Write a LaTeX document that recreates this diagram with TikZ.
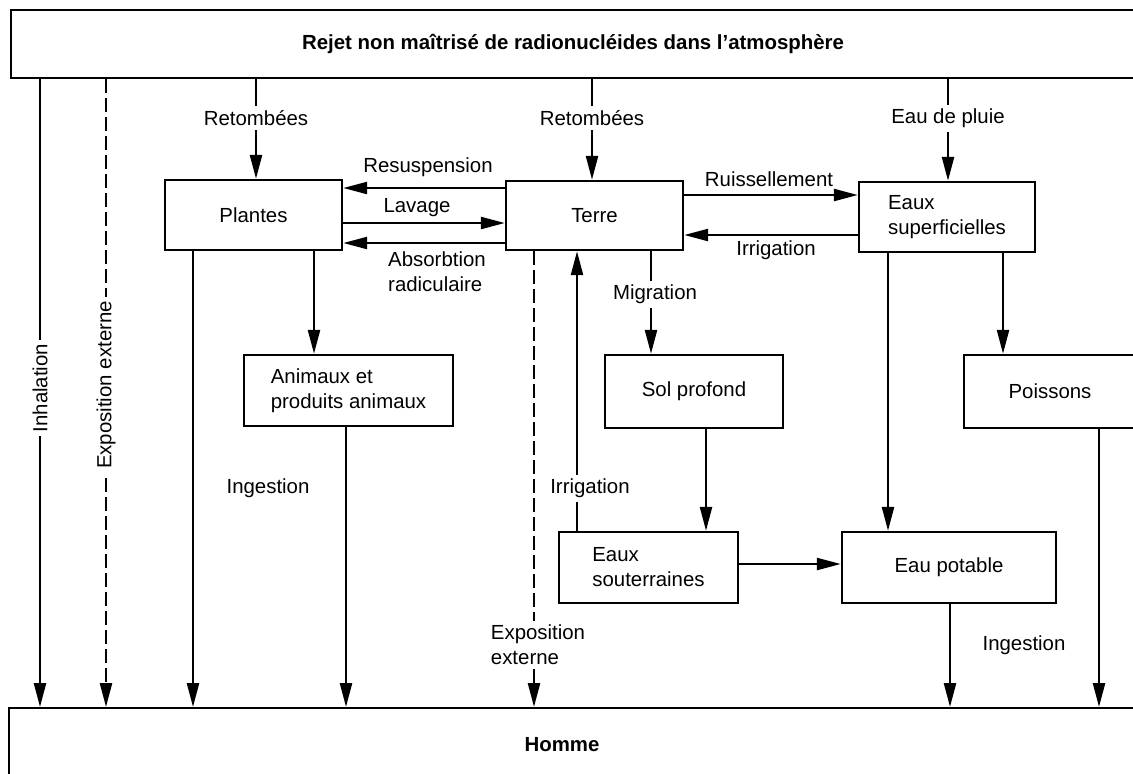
\documentclass[tikz,border=0pt]{standalone}
\usepackage{fontspec}
\setmainfont{Liberation Sans}
\usetikzlibrary{arrows.meta}
\begin{document}
\begin{tikzpicture}[x=0.5pt,y=-0.5pt,
  every node/.style={font=\fontsize{10.2}{12.5}\selectfont},
  box/.style={draw, line width=1.2pt, rectangle, inner sep=0pt, align=left},
  conn/.style={line width=1.2pt},
  arr/.style={conn, -{Triangle[length=12pt,width=6pt]}},
  dsh/.style={dash pattern=on 7pt off 2.5pt},
  lbl/.style={inner sep=2pt, align=left},
  onl/.style={lbl, fill=white},
  boldtxt/.style={font=\bfseries\fontsize{10.2}{12.5}\selectfont}
]
\useasboundingbox (0,0) rectangle (1133,773);
\clip (0,0) rectangle (1133,773);

% boxes
\node[box, boldtxt, minimum width=562pt, minimum height=34pt] (rejet) at (573,44) {Rejet non maîtrisé de radionucléides dans l’atmosphère};
\node[box, minimum width=88.5pt, minimum height=35pt] (plantes) at (253.5,215) {Plantes};
\node[box, minimum width=88.5pt, minimum height=34.5pt] (terre) at (594.5,215.5) {Terre};
\node[box, minimum width=88pt, minimum height=35pt] (eauxsup) at (947,217) {Eaux\\superficielles};
\node[box, minimum width=104.5pt, minimum height=35.5pt] (animaux) at (348.5,390.5) {Animaux et\\produits animaux};
\node[box, minimum width=89pt, minimum height=36.5pt] (solprof) at (694,391.5) {Sol profond};
\node[box, minimum width=86pt, minimum height=36.5pt] (poissons) at (1050,391.5) {Poissons};
\node[box, minimum width=89.5pt, minimum height=35.5pt] (eauxsout) at (648.5,567.5) {Eaux\\souterraines};
\node[box, minimum width=107pt, minimum height=35.5pt] (eaupot) at (949,567.5) {Eau potable};
\node[box, minimum width=566pt, minimum height=40pt, anchor=north west] (homme) at (8,707) {};
\node[boldtxt] (hommelbl) at (562,745) {Homme};

% x and y levels
\coordinate (xinh) at (40,0);
\coordinate (xexp) at (106,0);
\coordinate (xra) at (256,0);
\coordinate (xrb) at (592,0);
\coordinate (xpl) at (948,0);
\coordinate (xph) at (193,0);
\coordinate (xpa) at (314,0);
\coordinate (xah) at (346,0);
\coordinate (xte) at (534,0);
\coordinate (xir) at (577,0);
\coordinate (xmi) at (651,0);
\coordinate (xss) at (706,0);
\coordinate (xep) at (888,0);
\coordinate (xpo) at (1003,0);
\coordinate (xpoh) at (1099,0);
\coordinate (xeh) at (950,0);
\coordinate (y188) at (0,188);
\coordinate (y223) at (0,223);
\coordinate (y243) at (0,243);
\coordinate (y195) at (0,195);
\coordinate (y235) at (0,235);
\coordinate (y564) at (0,564);

% connectors
\draw[arr] (rejet.south -| xinh) -- (homme.north -| xinh);
\draw[arr,dsh] (rejet.south -| xexp) -- (homme.north -| xexp);
\draw[arr] (rejet.south -| xra) -- (plantes.north -| xra);
\draw[arr] (rejet.south -| xrb) -- (terre.north -| xrb);
\draw[arr] (rejet.south -| xpl) -- (eauxsup.north -| xpl);
\draw[arr] (terre.west |- y188) -- (plantes.east |- y188);
\draw[arr] (plantes.east |- y223) -- (terre.west |- y223);
\draw[arr] (terre.west |- y243) -- (plantes.east |- y243);
\draw[arr] (terre.east |- y195) -- (eauxsup.west |- y195);
\draw[arr] (eauxsup.west |- y235) -- (terre.east |- y235);
\draw[arr] (plantes.south -| xph) -- (homme.north -| xph);
\draw[arr] (plantes.south -| xpa) -- (animaux.north -| xpa);
\draw[arr] (animaux.south -| xah) -- (homme.north -| xah);
\draw[arr,dsh] (terre.south -| xte) -- (homme.north -| xte);
\draw[arr] (eauxsout.north -| xir) -- (terre.south -| xir);
\draw[arr] (terre.south -| xmi) -- (solprof.north -| xmi);
\draw[arr] (solprof.south -| xss) -- (eauxsout.north -| xss);
\draw[arr] (eauxsout.east |- y564) -- (eaupot.west |- y564);
\draw[arr] (eauxsup.south -| xep) -- (eaupot.north -| xep);
\draw[arr] (eauxsup.south -| xpo) -- (poissons.north -| xpo);
\draw[arr] (poissons.south -| xpoh) -- (homme.north -| xpoh);
\draw[arr] (eaupot.south -| xeh) -- (homme.north -| xeh);

% labels
\node[onl, rotate=90] (linh) at (40,388) {Inhalation};
\node[onl, rotate=90] (lexp) at (106,385) {Exposition externe};
\node[onl] (lr1) at (256,118) {Retombées};
\node[onl] (lr2) at (592,118) {Retombées};
\node[onl] (lpl) at (948,118) {Eau de pluie};
\node[lbl] (lres) at (428,167) {Resuspension};
\node[lbl] (llav) at (417,208) {Lavage};
\node[lbl] (labs) at (437,272) {Absorbtion\\radiculaire};
\node[lbl] (lrui) at (769,179) {Ruissellement};
\node[lbl] (lirr1) at (776,250) {Irrigation};
\node[lbl] (ling1) at (268,488) {Ingestion};
\node[onl] (lexp2) at (538,645) {Exposition\\externe};
\node[onl] (lirr2) at (590,488) {Irrigation};
\node[onl] (lmig) at (655,294) {Migration};
\node[lbl] (ling2) at (1024,645) {Ingestion};
\end{tikzpicture}
\end{document}
